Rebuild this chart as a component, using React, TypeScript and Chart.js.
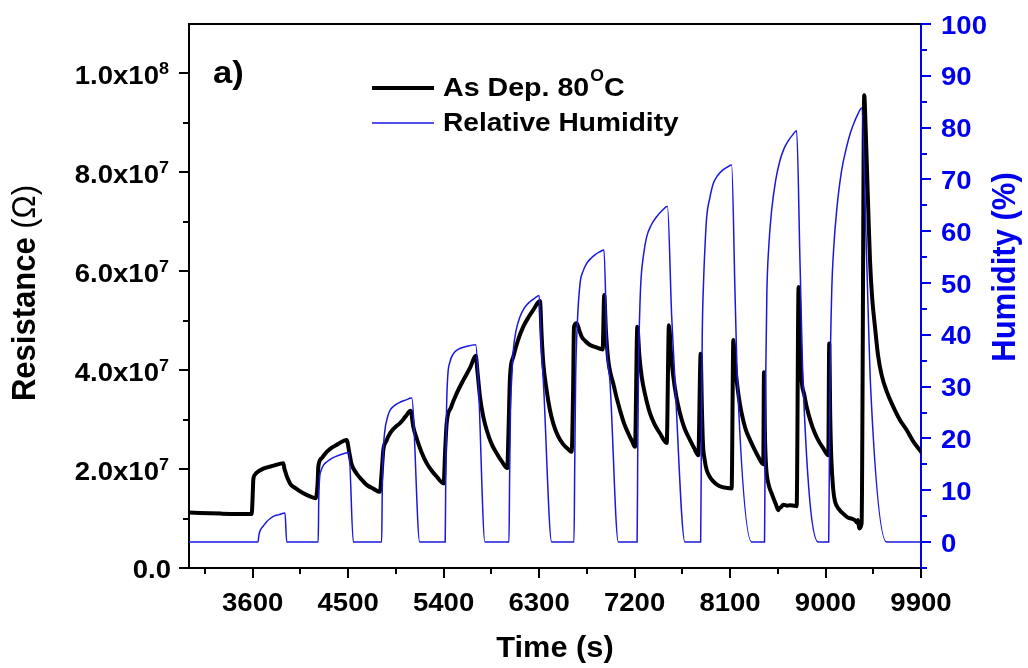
import React, { useEffect, useRef } from 'react';
import { Chart, registerables } from 'chart.js';

Chart.register(...registerables);

// ---------------- data ----------------
const resTime = [
  3000, 3300, 3591, 3600, 3606, 3620, 3640, 3700, 3800, 3889,
  3900, 3952, 4000, 4078, 4140, 4194,
  4212, 4219, 4250, 4298, 4350, 4400, 4486,
  4510, 4530, 4580, 4630, 4675, 4740, 4800,
  4815, 4832, 4860, 4894, 4940, 4989, 5040, 5089,
  5115, 5146, 5190, 5240, 5290, 5334, 5400,
  5415, 5429, 5470, 5523, 5586, 5650, 5703,
  5720, 5743, 5775, 5806, 5850, 5900, 5950, 6000,
  6012, 6026, 6057, 6100, 6151, 6200, 6246, 6308,
  6325, 6340, 6371, 6400, 6434, 6480, 6528, 6570, 6607,
  6620, 6629, 6654, 6680, 6701, 6740, 6780, 6840, 6899, 6914,
  6930, 6952, 6975, 6999, 7030, 7063, 7100, 7141, 7175, 7204,
  7226, 7245, 7267, 7300, 7345, 7390, 7440, 7503,
  7524, 7545, 7565, 7595, 7628, 7670, 7722, 7760, 7801,
  7823, 7835, 7845, 7860, 7880, 7910, 7942, 7980, 8021, 8070, 8115,
  8131, 8145, 8162, 8185, 8209, 8245, 8288, 8330, 8366, 8413,
  8420, 8430, 8440, 8461, 8492, 8530, 8555, 8565, 8580, 8602, 8640, 8665, 8700, 8728,
  8746, 8760, 8775, 8800, 8822, 8860, 8901, 8940, 8979, 9026,
  9035, 9045, 9055, 9073, 9089, 9130, 9167, 9210, 9246, 9280, 9293, 9305, 9318, 9340,
  9365, 9378, 9388, 9405, 9419, 9440, 9466, 9495, 9529, 9580, 9639, 9700, 9765, 9830, 9900,
];
const resValue = [
  1.12e7, 1.10e7, 1.09e7, 1.45e7, 1.78e7, 1.88e7, 1.93e7, 2.01e7, 2.07e7, 2.12e7,
  2.00e7, 1.71e7, 1.62e7, 1.51e7, 1.45e7, 1.41e7,
  1.70e7, 2.05e7, 2.22e7, 2.35e7, 2.44e7, 2.50e7, 2.59e7,
  2.35e7, 2.12e7, 1.91e7, 1.78e7, 1.68e7, 1.60e7, 1.54e7,
  1.90e7, 2.39e7, 2.57e7, 2.72e7, 2.84e7, 2.93e7, 3.06e7, 3.18e7,
  2.85e7, 2.62e7, 2.35e7, 2.12e7, 1.96e7, 1.85e7, 1.71e7,
  2.40e7, 2.93e7, 3.25e7, 3.53e7, 3.80e7, 4.05e7, 4.29e7,
  3.95e7, 3.46e7, 3.05e7, 2.79e7, 2.52e7, 2.32e7, 2.15e7, 2.02e7,
  2.80e7, 3.87e7, 4.27e7, 4.60e7, 4.88e7, 5.07e7, 5.22e7, 5.40e7,
  4.65e7, 4.13e7, 3.60e7, 3.22e7, 2.92e7, 2.66e7, 2.50e7, 2.41e7, 2.35e7,
  3.50e7, 4.88e7, 4.95e7, 4.80e7, 4.68e7, 4.58e7, 4.51e7, 4.46e7, 4.42e7, 5.52e7,
  4.80e7, 4.20e7, 3.92e7, 3.73e7, 3.45e7, 3.19e7, 2.93e7, 2.72e7, 2.57e7, 2.45e7,
  4.88e7, 4.30e7, 3.87e7, 3.50e7, 3.13e7, 2.90e7, 2.72e7, 2.53e7,
  4.91e7, 4.30e7, 3.87e7, 3.45e7, 3.13e7, 2.83e7, 2.59e7, 2.43e7, 2.28e7,
  4.33e7, 3.20e7, 2.50e7, 2.20e7, 1.98e7, 1.84e7, 1.75e7, 1.68e7, 1.64e7, 1.62e7, 1.61e7,
  4.61e7, 4.20e7, 3.80e7, 3.42e7, 3.13e7, 2.82e7, 2.59e7, 2.40e7, 2.25e7, 2.10e7,
  3.96e7, 2.60e7, 2.05e7, 1.71e7, 1.51e7, 1.30e7, 1.17e7, 1.21e7, 1.23e7, 1.28e7, 1.26e7, 1.27e7, 1.26e7, 1.25e7,
  5.68e7, 4.50e7, 3.80e7, 3.50e7, 3.26e7, 2.96e7, 2.72e7, 2.55e7, 2.42e7, 2.28e7,
  4.54e7, 3.00e7, 2.20e7, 1.58e7, 1.35e7, 1.18e7, 1.10e7, 1.02e7, 1.00e7, 0.96e7, 0.92e7, 0.97e7, 0.80e7, 0.90e7,
  9.56e7, 8.90e7, 8.25e7, 7.10e7, 6.23e7, 5.45e7, 4.88e7, 4.30e7, 3.90e7, 3.55e7, 3.26e7, 3.00e7, 2.79e7, 2.55e7, 2.35e7,
];

const humTime = [
  3000, 3650, 3660, 3675, 3700, 3730, 3763, 3800, 3850, 3905, 3921,
  4218, 4223, 4230, 4245, 4270, 4300, 4350, 4420, 4508, 4549,
  4816, 4822, 4830, 4847, 4870, 4894, 4940, 4989, 5040, 5099, 5175,
  5415, 5420, 5427, 5439, 5460, 5490, 5536, 5620, 5703, 5727, 5790,
  6016, 6022, 6030, 6043, 6057, 6085, 6120, 6165, 6214, 6260, 6300, 6320, 6340, 6419,
  6629, 6636, 6645, 6660, 6686, 6715, 6749, 6790, 6830, 6870, 6912, 6940, 6968, 7047,
  7224, 7230, 7238, 7248, 7260, 7285, 7314, 7360, 7408, 7460, 7510, 7550, 7581, 7675,
  7823, 7830, 7838, 7850, 7865, 7880, 7910, 7942, 7985, 8030, 8075, 8115, 8147, 8170, 8304,
  8425, 8430, 8435, 8447, 8465, 8492, 8530, 8571, 8610, 8650, 8690, 8728, 8759, 8790, 8932,
  9030, 9036, 9042, 9058, 9078, 9105, 9150, 9199, 9235, 9270, 9305, 9340, 9388, 9425, 9576,
  9900,
];
const humValue = [
  0, 0, 1.5, 2.4, 3.1, 3.9, 4.5, 5.0, 5.3, 5.6, 0,
  0, 8.0, 12.0, 13.8, 14.9, 15.5, 16.2, 16.8, 17.3, 0,
  0, 10.0, 17.0, 21.6, 24.0, 25.4, 26.4, 27.0, 27.4, 27.8, 0,
  0, 12.0, 25.0, 32.0, 34.8, 36.3, 37.2, 37.8, 38.1, 31.2, 0,
  0, 12.0, 25.0, 32.0, 37.0, 41.0, 43.5, 45.3, 46.4, 47.1, 47.6, 38.0, 31.2, 0,
  0, 15.0, 32.0, 42.0, 49.9, 52.3, 53.8, 54.8, 55.5, 56.0, 56.4, 37.0, 31.0, 0,
  0, 18.0, 35.0, 44.0, 50.5, 55.5, 58.9, 61.3, 62.8, 64.0, 64.8, 43.5, 31.0, 0,
  0, 20.0, 40.0, 50.0, 57.5, 62.8, 66.5, 69.2, 70.8, 71.8, 72.4, 72.8, 48.0, 31.0, 0,
  0, 15.0, 30.0, 48.0, 57.0, 64.0, 69.8, 73.7, 76.0, 77.5, 78.6, 79.4, 54.4, 30.0, 0,
  0, 15.0, 30.0, 48.0, 57.0, 64.0, 71.5, 76.3, 79.0, 81.0, 82.6, 83.8, 54.4, 30.0, 0,
  0,
];

const xMajorTicks = [3600, 4500, 5400, 6300, 7200, 8100, 9000, 9900];
const xMinorTicks = [3150, 4050, 4950, 5850, 6750, 7650, 8550, 9450];
const xTickLabels = ['3600', '4500', '5400', '6300', '7200', '8100', '9000', '9900'];

const leftMajorTicks = [0, 2e7, 4e7, 6e7, 8e7, 1e8];
const leftMinorTicks = [1e7, 3e7, 5e7, 7e7, 9e7];
const leftTickMantissa = ['0.0', '2.0x10', '4.0x10', '6.0x10', '8.0x10', '1.0x10'];
const leftTickExponent = ['', '7', '7', '7', '7', '8'];

const rightMajorTicks = [0, 10, 20, 30, 40, 50, 60, 70, 80, 90, 100];
const rightMinorTicks = [-5, 5, 15, 25, 35, 45, 55, 65, 75, 85, 95];
const rightTickLabels = ['0', '10', '20', '30', '40', '50', '60', '70', '80', '90', '100'];

const BLUE = '#0000f0';
const LINE_BLUE = '#1818e0';
const FONT = '"Liberation Sans", Arial, sans-serif';

function drawText(
  ctx: CanvasRenderingContext2D, s: string, x: number, y: number,
  font: string, color: string, align: 'left' | 'center' | 'right', sx = 1.06,
): number {
  ctx.save();
  ctx.font = font;
  ctx.fillStyle = color;
  ctx.textAlign = 'left';
  ctx.textBaseline = 'alphabetic';
  const w = ctx.measureText(s).width * sx;
  const x0 = align === 'center' ? x - w / 2 : align === 'right' ? x - w : x;
  ctx.translate(x0, y);
  ctx.scale(sx, 1);
  ctx.fillText(s, 0, 0);
  ctx.restore();
  return w;
}

const decor = {
  id: 'decor',
  afterDraw(chart: any) {
    const ctx: CanvasRenderingContext2D = chart.ctx;
    const a = chart.chartArea;
    const xs = chart.scales.x;
    const yl = chart.scales.yL;
    const yr = chart.scales.yR;

    ctx.save();
    // top frame
    ctx.strokeStyle = '#000';
    ctx.lineWidth = 2;
    ctx.beginPath();
    ctx.moveTo(a.left - 1, a.top);
    ctx.lineTo(a.right, a.top);
    ctx.stroke();

    // bottom ticks
    xMajorTicks.forEach((v) => {
      const p = Math.round(xs.getPixelForValue(v));
      ctx.beginPath(); ctx.moveTo(p, a.bottom); ctx.lineTo(p, a.bottom + 10); ctx.stroke();
    });
    xMinorTicks.forEach((v) => {
      const p = Math.round(xs.getPixelForValue(v));
      ctx.beginPath(); ctx.moveTo(p, a.bottom); ctx.lineTo(p, a.bottom + 6); ctx.stroke();
    });
    xMajorTicks.forEach((v, i) => {
      const p = xs.getPixelForValue(v);
      drawText(ctx, xTickLabels[i], p, a.bottom + 43, `bold 26px ${FONT}`, '#000', 'center');
    });

    // left ticks
    leftMajorTicks.forEach((v) => {
      const p = Math.round(yl.getPixelForValue(v));
      ctx.beginPath(); ctx.moveTo(a.left - 10, p); ctx.lineTo(a.left, p); ctx.stroke();
    });
    leftMinorTicks.forEach((v) => {
      const p = Math.round(yl.getPixelForValue(v));
      ctx.beginPath(); ctx.moveTo(a.left - 6, p); ctx.lineTo(a.left, p); ctx.stroke();
    });
    leftMajorTicks.forEach((v, i) => {
      const p = yl.getPixelForValue(v);
      const exp = leftTickExponent[i];
      const rightEdge = a.left - 20;
      if (exp) {
        ctx.save();
        ctx.font = `bold 17px ${FONT}`;
        const ew = ctx.measureText(exp).width * 1.06;
        ctx.restore();
        drawText(ctx, exp, rightEdge - ew, p + 1, `bold 17px ${FONT}`, '#000', 'left');
        drawText(ctx, leftTickMantissa[i], rightEdge - ew, p + 11, `bold 26px ${FONT}`, '#000', 'right');
      } else {
        drawText(ctx, leftTickMantissa[i], rightEdge + 2, p + 10, `bold 26px ${FONT}`, '#000', 'right');
      }
    });

    // right ticks
    ctx.strokeStyle = BLUE;
    rightMajorTicks.forEach((v) => {
      const p = Math.round(yr.getPixelForValue(v));
      ctx.beginPath(); ctx.moveTo(a.right, p); ctx.lineTo(a.right + 10, p); ctx.stroke();
    });
    rightMinorTicks.forEach((v) => {
      const p = Math.round(yr.getPixelForValue(v));
      ctx.beginPath(); ctx.moveTo(a.right, p); ctx.lineTo(a.right + 6, p); ctx.stroke();
    });
    rightMajorTicks.forEach((v, i) => {
      const p = yr.getPixelForValue(v);
      drawText(ctx, rightTickLabels[i], a.right + 20, p + 9.5, `bold 26px ${FONT}`, BLUE, 'left');
    });

    // axis titles
    drawText(ctx, 'Time (s)', (a.left + a.right) / 2, 657, `bold 29px ${FONT}`, '#000', 'center');

    // left title (rotated)
    ctx.save();
    ctx.translate(24, 293);
    ctx.rotate(-Math.PI / 2);
    ctx.scale(1, 1.07);
    ctx.textBaseline = 'alphabetic';
    ctx.fillStyle = '#000';
    ctx.font = `bold 31px ${FONT}`;
    const t1 = 'Resistance ';
    const w1 = ctx.measureText(t1).width;
    ctx.font = `31px ${FONT}`;
    const t2 = '(\u03A9)';
    const w2 = ctx.measureText(t2).width;
    const start = -(w1 + w2) / 2;
    ctx.font = `bold 31px ${FONT}`;
    ctx.fillText(t1, start, 10.5);
    ctx.font = `31px ${FONT}`;
    ctx.fillText(t2, start + w1, 10.5);
    ctx.restore();

    // right title (rotated)
    ctx.save();
    ctx.translate(1004, 267);
    ctx.rotate(-Math.PI / 2);
    ctx.scale(1, 1.07);
    ctx.textBaseline = 'alphabetic';
    ctx.textAlign = 'center';
    ctx.fillStyle = BLUE;
    ctx.font = `bold 31px ${FONT}`;
    ctx.fillText('Humidity (%)', 0, 10.5);
    ctx.restore();

    // panel label
    drawText(ctx, 'a)', 213, 83, `bold 32px ${FONT}`, '#000', 'left', 1.08);

    // legend
    ctx.lineCap = 'butt';
    ctx.strokeStyle = '#000';
    ctx.lineWidth = 4;
    ctx.beginPath(); ctx.moveTo(372, 88); ctx.lineTo(434, 88); ctx.stroke();
    ctx.strokeStyle = LINE_BLUE;
    ctx.lineWidth = 1.5;
    ctx.beginPath(); ctx.moveTo(372, 123); ctx.lineTo(434, 123); ctx.stroke();

    let x = 443;
    x += drawText(ctx, 'As Dep. 80', x, 96, `bold 26px ${FONT}`, '#000', 'left', 1.1);
    x += drawText(ctx, 'O', x + 1, 81, `bold 16px ${FONT}`, '#000', 'left', 1.1) + 1;
    drawText(ctx, 'C', x, 96, `bold 26px ${FONT}`, '#000', 'left', 1.1);
    drawText(ctx, 'Relative Humidity', 443, 131, `bold 26px ${FONT}`, '#000', 'left', 1.08);

    ctx.restore();
  },
};

export default function App() {
  const ref = useRef<HTMLCanvasElement | null>(null);

  useEffect(() => {
    document.body.style.margin = '0';
    const canvas = ref.current;
    if (!canvas) return;
    const chart = new Chart(canvas, {
      type: 'line',
      data: {
        datasets: [
          {
            label: 'As Dep. 80°C',
            data: resTime.map((t, i) => ({ x: t, y: resValue[i] })),
            yAxisID: 'yL',
            borderColor: '#000',
            borderWidth: 4,
            pointRadius: 0,
            cubicInterpolationMode: 'monotone',
            borderJoinStyle: 'round',
            borderCapStyle: 'round',
            order: 1,
          },
          {
            label: 'Relative Humidity',
            data: humTime.map((t, i) => ({ x: t, y: humValue[i] })),
            yAxisID: 'yR',
            borderColor: LINE_BLUE,
            borderWidth: 1.5,
            pointRadius: 0,
            cubicInterpolationMode: 'monotone',
            order: 0,
          },
        ],
      },
      options: {
        animation: false,
        responsive: false,
        events: [],
        layout: { padding: { top: 24, left: 0, right: 0, bottom: 0 } },
        plugins: { legend: { display: false }, tooltip: { enabled: false } },
        scales: {
          x: {
            type: 'linear', position: 'bottom', min: 3000, max: 9900,
            ticks: { display: false }, grid: { display: false },
            border: { display: true, color: '#000', width: 2 },
            afterFit: (s: any) => { s.height = 100; },
          },
          yL: {
            type: 'linear', position: 'left', min: 0, max: 1.1e8,
            ticks: { display: false }, grid: { display: false },
            border: { display: true, color: '#000', width: 2 },
            afterFit: (s: any) => { s.width = 189; },
          },
          yR: {
            type: 'linear', position: 'right', min: -5, max: 100,
            ticks: { display: false }, grid: { display: false },
            border: { display: true, color: BLUE, width: 2 },
            afterFit: (s: any) => { s.width = 107; },
          },
        },
      } as any,
      plugins: [decor],
    });
    return () => chart.destroy();
  }, []);

  return (
    <div style={{ width: 1028, height: 668, background: '#fff' }}>
      <canvas ref={ref} width={1028} height={668} style={{ display: 'block' }} />
    </div>
  );
}
